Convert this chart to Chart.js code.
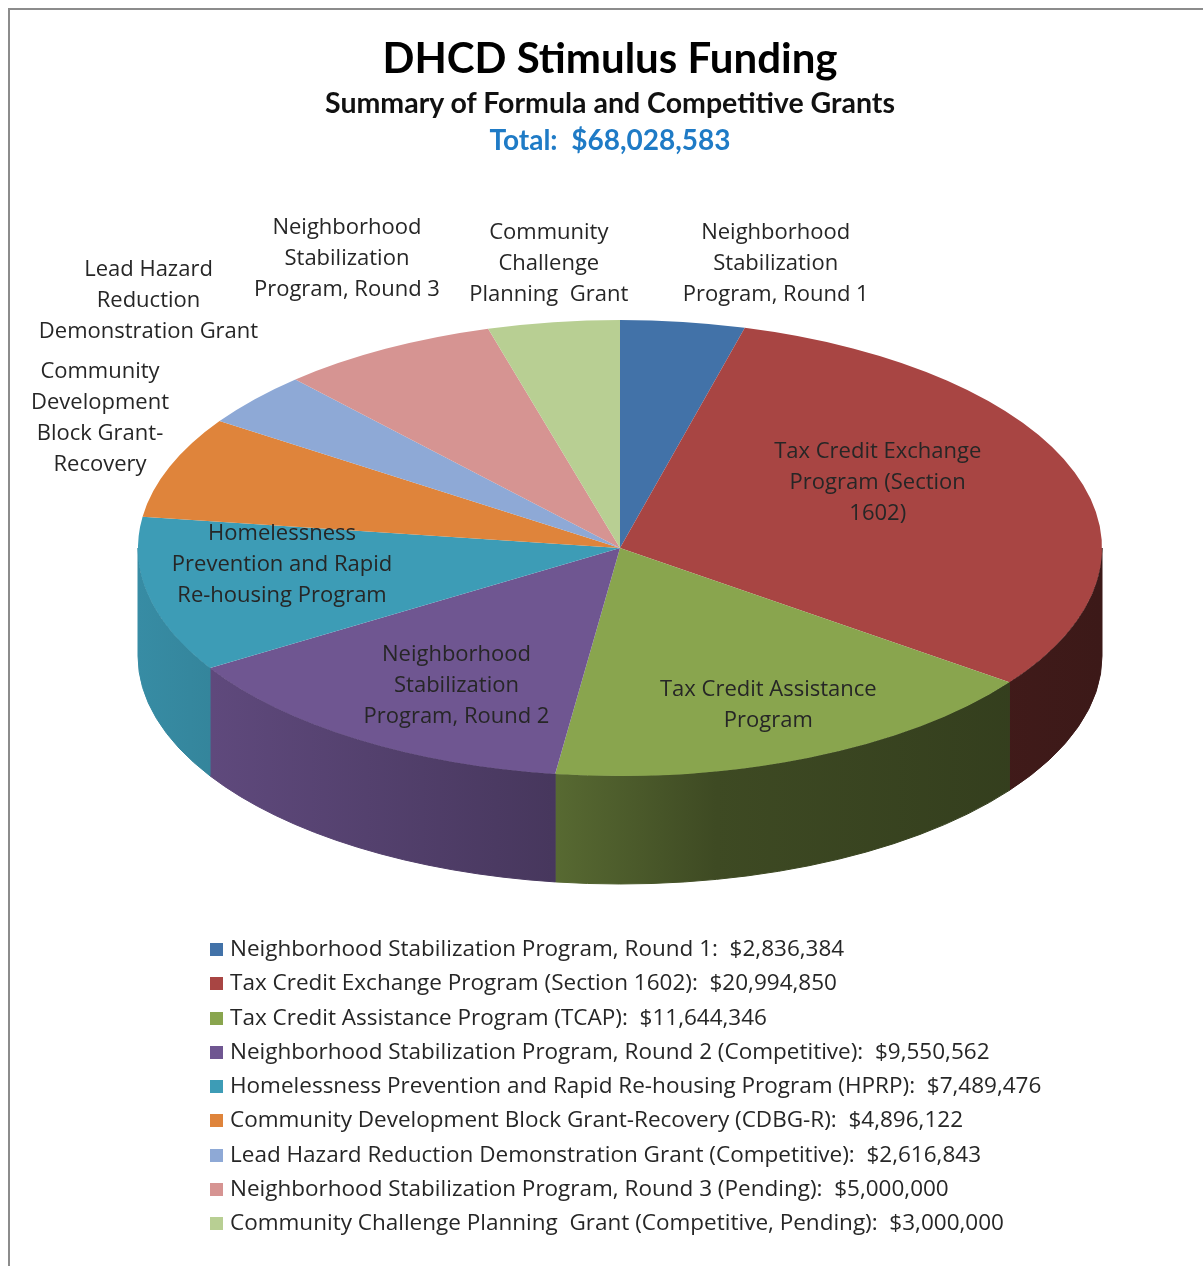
<!DOCTYPE html>
<html>
<head>
<meta charset="utf-8">
<script src="https://cdn.jsdelivr.net/npm/chart.js@4/dist/chart.umd.min.js"></script>
<style>
  html, body { margin: 0; padding: 0; background: #fff; overflow: hidden; }
  body { width: 1203px; height: 1266px; position: relative; font-family: "Open Sans", Lato, sans-serif; }
  #frame { position: absolute; left: 8px; top: 8px; width: 1220px; height: 1290px; border: 2px solid #8c8c8c; }
  #grafico { position: absolute; left: 0; top: 0; }
  .titulo { position: absolute; left: 0; width: 1220px; text-align: center; font-weight: bold; font-family: Lato, sans-serif; white-space: pre; }
  #t1 { top: 36px; font-size: 42px; line-height: 42px; color: #000; }
  #t2 { top: 88px; font-size: 28.5px; line-height: 28.5px; color: #111; }
  #t3 { top: 125px; font-size: 28px; line-height: 28px; color: #1f7bc6; }
  #leyenda { position: absolute; left: 210px; top: 933px; font-size: 22.5px; color: #262626; }
  #leyenda div { height: 34.3px; line-height: 30px; white-space: pre; }
  #leyenda span.box { display: inline-block; width: 13px; height: 13px; margin-right: 7px; vertical-align: 0px; }
</style>
</head>
<body>
<div id="frame"></div>
<canvas id="grafico" width="1203" height="1266"></canvas>
<div class="titulo" id="t1">DHCD Stimulus Funding</div>
<div class="titulo" id="t2">Summary of Formula and Competitive Grants</div>
<div class="titulo" id="t3"></div>
<div id="leyenda"></div>
<script>
const categorias = [
  'Neighborhood Stabilization Program, Round 1',
  'Tax Credit Exchange Program (Section 1602)',
  'Tax Credit Assistance Program (TCAP)',
  'Neighborhood Stabilization Program, Round 2 (Competitive)',
  'Homelessness Prevention and Rapid Re-housing Program (HPRP)',
  'Community Development Block Grant-Recovery (CDBG-R)',
  'Lead Hazard Reduction Demonstration Grant (Competitive)',
  'Neighborhood Stabilization Program, Round 3 (Pending)',
  'Community Challenge Planning  Grant (Competitive, Pending)'
];
const montos = [2836384, 20994850, 11644346, 9550562, 7489476, 4896122, 2616843, 5000000, 3000000];
const etiquetas = [
  ['Neighborhood', 'Stabilization', 'Program, Round 1'],
  ['Tax Credit Exchange', 'Program (Section', '1602)'],
  ['Tax Credit Assistance', 'Program'],
  ['Neighborhood', 'Stabilization', 'Program, Round 2'],
  ['Homelessness', 'Prevention and Rapid', 'Re-housing Program'],
  ['Community', 'Development', 'Block Grant-', 'Recovery'],
  ['Lead Hazard', 'Reduction', 'Demonstration Grant'],
  ['Neighborhood', 'Stabilization', 'Program, Round 3'],
  ['Community', 'Challenge', 'Planning  Grant']
];
const colores = ['#4272a8', '#a84543', '#89a54e', '#6f5691', '#3d9cb6', '#df843b', '#8ea9d6', '#d69492', '#b8cf93'];

// label placement: radial factor and nudge (screen px)
const colocacion = [
  {f: 1.25, dx: 77, dy: -2},
  {f: 0.6, dx: -15, dy: -20},
  {f: 0.6, dx: 35, dy: 31},
  {f: 0.6, dx: -6, dy: 23},
  {f: 0.6, dx: -55, dy: -11},
  {f: 1.25, dx: 43, dy: -28},
  {f: 1.25, dx: -15, dy: -61},
  {f: 1.25, dx: 20, dy: -40},
  {f: 1.25, dx: 12, dy: -2}
];
const VISTA = {tilt: 0.473, shiftY: 6, depth: 108};
const sombra = [[0, 0.9], [0.43, 0.64], [0.6, 0.45], [1, 0.36]];

const total = montos.reduce((a, b) => a + b, 0);
const fmt = v => '$' + v.toLocaleString('en-US');
document.getElementById('t3').textContent = 'Total:  ' + fmt(total);

const leyenda = document.getElementById('leyenda');
categorias.forEach((c, i) => {
  const row = document.createElement('div');
  const box = document.createElement('span');
  box.className = 'box';
  box.style.background = colores[i];
  row.appendChild(box);
  row.appendChild(document.createTextNode(c + ':  ' + fmt(montos[i])));
  leyenda.appendChild(row);
});

function oscurecer(hex, k) {
  const n = parseInt(hex.slice(1), 16);
  const r = Math.round(((n >> 16) & 255) * k), g = Math.round(((n >> 8) & 255) * k), b = Math.round((n & 255) * k);
  return `rgb(${r},${g},${b})`;
}

const pie3d = {
  id: 'pie3d',
  beforeDatasetsDraw(chart) {
    const ctx = chart.ctx;
    const arcs = chart.getDatasetMeta(0).data;
    const cx = arcs[0].x, cy = arcs[0].y, rx = arcs[0].outerRadius;
    const ry = rx * VISTA.tilt, cyT = cy + VISTA.shiftY, D = VISTA.depth;
    arcs.forEach((arc, i) => {
      const a = Math.max(arc.startAngle, 0), b = Math.min(arc.endAngle, Math.PI);
      if (b <= a) return;
      const grad = ctx.createLinearGradient(cx - rx, 0, cx + rx, 0);
      sombra.forEach(([p, k]) => grad.addColorStop(p, oscurecer(colores[i], k)));
      ctx.beginPath();
      ctx.ellipse(cx, cyT, rx, ry, 0, a, b, false);
      ctx.lineTo(cx + rx * Math.cos(b), cyT + ry * Math.sin(b) + D);
      ctx.ellipse(cx, cyT + D, rx, ry, 0, b, a, true);
      ctx.closePath();
      ctx.fillStyle = grad;
      ctx.fill();
      ctx.strokeStyle = grad;
      ctx.lineWidth = 1;
      ctx.stroke();
    });
    ctx.save();
    ctx.translate(0, cyT);
    ctx.scale(1, VISTA.tilt);
    ctx.translate(0, -cy);
  },
  afterDatasetsDraw(chart) {
    const ctx = chart.ctx;
    ctx.restore();
    const arcs = chart.getDatasetMeta(0).data;
    ctx.save();
    ctx.font = '22px "Open Sans", Lato, sans-serif';
    ctx.textAlign = 'center';
    ctx.textBaseline = 'middle';
    ctx.fillStyle = '#262626';
    const lh = 31;
    arcs.forEach((arc, i) => {
      const m = (arc.startAngle + arc.endAngle) / 2;
      const p = colocacion[i];
      const rx = arc.outerRadius, ry = rx * VISTA.tilt;
      const x = arc.x + p.f * rx * Math.cos(m) + p.dx;
      const y = arc.y + VISTA.shiftY + p.f * ry * Math.sin(m) + p.dy;
      const lines = etiquetas[i];
      lines.forEach((t, j) => {
        ctx.fillText(t, x, y + (j - (lines.length - 1) / 2) * lh);
      });
    });
    ctx.restore();
  }
};

new Chart(document.getElementById('grafico').getContext('2d'), {
  type: 'pie',
  data: {
    labels: categorias,
    datasets: [{
      data: montos,
      backgroundColor: colores,
      borderWidth: 0
    }]
  },
  options: {
    responsive: false,
    animation: false,
    layout: { padding: { left: 138, right: 101, top: 60, bottom: 242 } },
    plugins: {
      legend: { display: false },
      tooltip: { enabled: false }
    }
  },
  plugins: [pie3d]
});
</script>
</body>
</html>
